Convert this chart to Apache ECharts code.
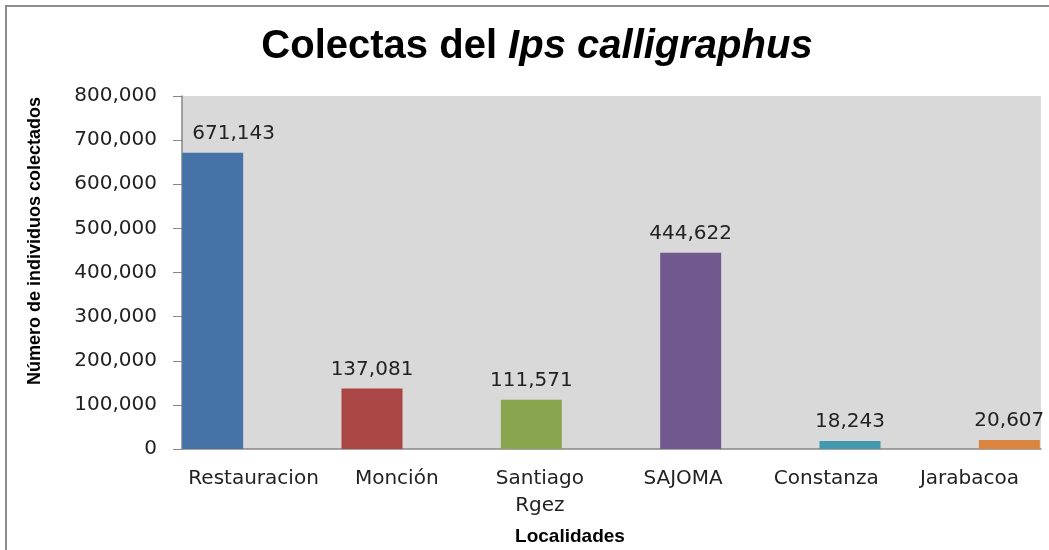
<!DOCTYPE html>
<html>
<head>
<meta charset="utf-8">
<script src="https://cdn.jsdelivr.net/npm/echarts@6/dist/echarts.min.js"></script>
<style>
  html, body { margin: 0; padding: 0; background: #fff; }
  #chart { width: 1049px; height: 550px; }
</style>
</head>
<body>
<div id="chart"></div>
<script>
// datos de la gráfica
const localidades = ['Restauracion', 'Monción', 'Santiago\nRgez', 'SAJOMA', 'Constanza', 'Jarabacoa'];
const individuos = [671143, 137081, 111571, 444622, 18243, 20607];
const colores = ['#4572A7', '#AA4643', '#89A54E', '#71588F', '#4198AF', '#DB843D'];
const yTicks = [0, 100000, 200000, 300000, 400000, 500000, 600000, 700000, 800000];

const numFont = 'DejaVu Sans, Verdana, sans-serif';
const calFont = '"Liberation Sans Narrow", "Liberation Sans", Arial, sans-serif';
const fmt = v => v.toLocaleString('en-US');

const chart = echarts.init(document.getElementById('chart'));

const option = {
    animation: false,
    backgroundColor: '#fff',
    grid: [
        // área del gráfico (fondo gris y etiquetas)
        { left: 182, right: 8, top: 96, bottom: 101, show: true, backgroundColor: '#D9D9D9', borderWidth: 0 },
        // barras (mismo alto, otra separación horizontal)
        { left: 133, width: 956, top: 96, bottom: 101, show: false, outerBoundsMode: 'none' }
    ],
    xAxis: [
        {
            type: 'category', gridIndex: 0, data: localidades,
            axisLine: { lineStyle: { color: '#868686', width: 1.5 } },
            axisTick: { show: false },
            axisLabel: { color: '#222', fontFamily: numFont, fontSize: 20, margin: 16, lineHeight: 27, interval: 0 }
        },
        { type: 'category', gridIndex: 1, data: localidades, show: false }
    ],
    yAxis: [
        {
            type: 'value', gridIndex: 0, min: 0, max: yTicks[yTicks.length - 1], interval: yTicks[1] - yTicks[0],
            axisLine: { show: true, lineStyle: { color: '#868686', width: 1.5 } },
            axisTick: { show: true, length: 9, lineStyle: { color: '#868686' } },
            splitLine: { show: false },
            axisLabel: { color: '#222', fontFamily: numFont, fontSize: 20, margin: 25, formatter: fmt }
        },
        { type: 'value', gridIndex: 1, min: 0, max: yTicks[yTicks.length - 1], show: false, splitLine: { show: false } }
    ],
    series: [{
        type: 'bar',
        xAxisIndex: 1,
        yAxisIndex: 1,
        barWidth: 61,
        data: individuos.map((v, i) => ({
            value: v,
            itemStyle: { color: colores[i] },
            label: i === 0 ? { offset: [21, 0] } : {}
        })),
        label: {
            show: true, position: 'top', distance: 9,
            color: '#222', fontFamily: numFont, fontSize: 20,
            formatter: p => fmt(p.value)
        }
    }],
    graphic: [
        {
            type: 'rect', silent: true,
            shape: { x: 6, y: 6, width: 1100, height: 600 },
            style: { fill: null, stroke: '#8c8c8c', lineWidth: 2 }
        },
        {
            type: 'text', x: 537, y: 47,
            style: {
                text: '{a|Colectas del }{b|Ips calligraphus}',
                align: 'center', verticalAlign: 'middle',
                rich: {
                    a: { fontFamily: calFont, fontWeight: 'bold', fontSize: 40, fill: '#000' },
                    b: { fontFamily: calFont, fontWeight: 'bold', fontStyle: 'italic', fontSize: 40, fill: '#000' }
                }
            }
        },
        {
            type: 'text', x: 35, y: 241, rotation: Math.PI / 2,
            style: {
                text: 'Número de individuos colectados',
                align: 'center', verticalAlign: 'middle',
                fontFamily: calFont, fontWeight: 'bold', fontSize: 18, fill: '#000'
            }
        },
        {
            type: 'text', x: 570, y: 537,
            style: {
                text: 'Localidades',
                align: 'center', verticalAlign: 'middle',
                fontFamily: calFont, fontWeight: 'bold', fontSize: 19, fill: '#000'
            }
        }
    ]
};

chart.setOption(option);
window.addEventListener('resize', () => chart.resize());
</script>
</body>
</html>
